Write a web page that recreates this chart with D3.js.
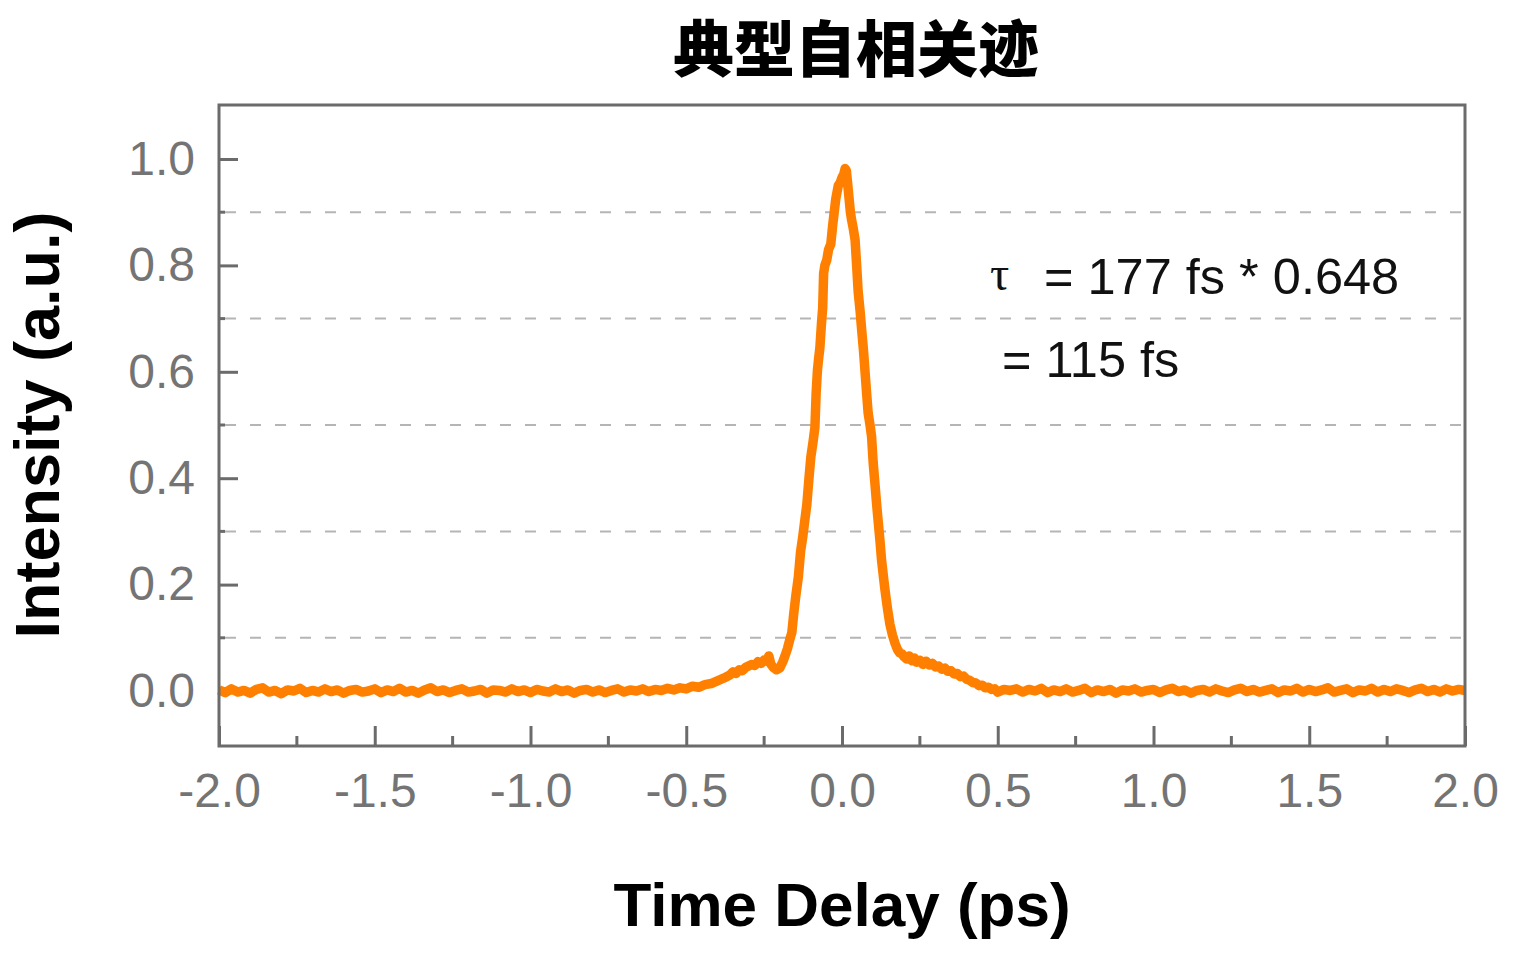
<!DOCTYPE html>
<html>
<head>
<meta charset="utf-8">
<script src="https://cdn.jsdelivr.net/npm/d3@7"></script>
<style>
  html, body { margin: 0; padding: 0; background: #ffffff; }
  svg { display: block; }
</style>
</head>
<body>
<svg id="chart" width="1522" height="957"></svg>
<script>
// ---------- Data ----------
const titleText = "典型自相关迹";
const xLabelText = "Time Delay (ps)";
const yLabelText = "Intensity (a.u.)";
const annotationLine1 = "= 177 fs * 0.648";
const annotationLine2 = "= 115 fs";
const annotationSymbol = "τ";

const xMajorTicks = [-2.0, -1.5, -1.0, -0.5, 0.0, 0.5, 1.0, 1.5, 2.0];
const xMinorTicks = [-1.75, -1.25, -0.75, -0.25, 0.25, 0.75, 1.25, 1.75];
const yMajorTicks = [0.0, 0.2, 0.4, 0.6, 0.8, 1.0];
const yGridLines = [0.1, 0.3, 0.5, 0.7, 0.9];

// [delay (ps), intensity (a.u.)]
const baselineLeft = [
  [-2.00,0.002],[-1.98,-0.003],[-1.96,0.004],[-1.94,-0.002],[-1.92,0.001],[-1.90,-0.004],
  [-1.88,0.003],[-1.86,0.006],[-1.84,-0.002],[-1.82,0.001],[-1.80,-0.005],[-1.78,0.002],
  [-1.76,0.000],[-1.74,0.005],[-1.72,-0.003],[-1.70,0.001],[-1.68,-0.002],[-1.66,0.004],
  [-1.64,-0.001],[-1.62,0.002],[-1.60,-0.004],[-1.58,0.001],[-1.56,0.003],[-1.54,-0.002],
  [-1.52,0.000],[-1.50,0.004],[-1.48,-0.003],[-1.46,0.002],[-1.44,-0.001],[-1.42,0.005],
  [-1.40,-0.002],[-1.38,0.001],[-1.36,-0.004],[-1.34,0.002],[-1.32,0.006],[-1.30,-0.001],
  [-1.28,0.002],[-1.26,-0.003],[-1.24,0.001],[-1.22,0.004],[-1.20,-0.002],[-1.18,0.000],
  [-1.16,0.003],[-1.14,-0.004],[-1.12,0.002],[-1.10,0.001],[-1.08,-0.002],[-1.06,0.004],
  [-1.04,-0.001],[-1.02,0.002],[-1.00,-0.003],[-0.98,0.003],[-0.96,0.000],[-0.94,-0.002],
  [-0.92,0.004],[-0.90,-0.001],[-0.88,0.002],[-0.86,-0.004],[-0.84,0.001],[-0.82,0.003],
  [-0.80,-0.002],[-0.78,0.002],[-0.76,-0.003],[-0.74,0.001],[-0.72,0.004],[-0.70,-0.002],
  [-0.68,0.002],[-0.66,0.000],[-0.64,0.004],[-0.62,-0.001],[-0.60,0.003],[-0.58,0.001],
  [-0.56,0.005],[-0.54,0.002],[-0.52,0.006]
];
const wingLeft = [
  [-0.50,0.004],[-0.48,0.009],[-0.46,0.007],[-0.44,0.012],[-0.42,0.014],[-0.40,0.019],
  [-0.38,0.024],[-0.36,0.030],[-0.35,0.036],[-0.34,0.033],[-0.33,0.040],[-0.32,0.038],
  [-0.31,0.044],[-0.30,0.047],[-0.29,0.050],[-0.28,0.048],[-0.27,0.055],[-0.26,0.052],
  [-0.25,0.058],[-0.24,0.056],[-0.235,0.066],[-0.228,0.050],[-0.22,0.044],[-0.21,0.040],
  [-0.20,0.043],[-0.19,0.055],[-0.183,0.066],[-0.175,0.080],[-0.167,0.098]
];
const peak = [
  [-0.161,0.110],[-0.155,0.145],[-0.148,0.180],[-0.140,0.215],[-0.133,0.262],[-0.126,0.290],
  [-0.120,0.318],[-0.113,0.350],[-0.106,0.400],[-0.100,0.440],[-0.093,0.468],[-0.087,0.495],
  [-0.083,0.560],[-0.079,0.602],[-0.075,0.625],[-0.071,0.645],[-0.066,0.690],[-0.062,0.720],
  [-0.059,0.785],[-0.055,0.800],[-0.049,0.810],[-0.043,0.830],[-0.036,0.840],[-0.030,0.875],
  [-0.026,0.895],[-0.020,0.925],[-0.012,0.950],[-0.006,0.955],[0.000,0.965],[0.006,0.972],
  [0.010,0.982],[0.014,0.978],[0.018,0.955],[0.022,0.930],[0.027,0.900],[0.031,0.885],
  [0.036,0.870],[0.042,0.848],[0.047,0.800],[0.052,0.750],[0.058,0.715],[0.063,0.680],
  [0.069,0.640],[0.074,0.600],[0.079,0.560],[0.084,0.522],[0.090,0.500],[0.095,0.478],
  [0.100,0.430],[0.106,0.388],[0.111,0.352],[0.116,0.320],[0.122,0.282],[0.127,0.246],
  [0.133,0.215],[0.138,0.190],[0.146,0.155],[0.154,0.125],[0.162,0.105]
];
const wingRight = [
  [0.170,0.090],[0.178,0.078],[0.185,0.072],[0.192,0.070],[0.200,0.064],[0.208,0.060],
  [0.216,0.066],[0.224,0.057],[0.232,0.062],[0.240,0.054],[0.25,0.058],[0.26,0.050],
  [0.27,0.056],[0.28,0.049],[0.29,0.052],[0.30,0.045],[0.31,0.047],[0.32,0.041],
  [0.33,0.043],[0.34,0.037],[0.35,0.038],[0.36,0.032],[0.37,0.033],[0.38,0.027],
  [0.39,0.028],[0.40,0.022],[0.41,0.020],[0.42,0.016],[0.43,0.015],[0.44,0.010],
  [0.45,0.011],[0.46,0.006],[0.47,0.007],[0.48,0.003],[0.49,0.004],[0.50,-0.002],
  [0.52,0.003],[0.54,0.001]
];
const baselineRight = [
  [0.56,0.004],[0.58,-0.002],[0.60,0.003],[0.62,0.000],[0.64,0.005],[0.66,-0.003],
  [0.68,0.002],[0.70,-0.001],[0.72,0.004],[0.74,-0.002],[0.76,0.001],[0.78,0.005],
  [0.80,-0.003],[0.82,0.002],[0.84,-0.001],[0.86,0.003],[0.88,-0.004],[0.90,0.002],
  [0.92,0.000],[0.94,0.004],[0.96,-0.002],[0.98,0.001],[1.00,0.003],[1.02,-0.003],
  [1.04,0.002],[1.06,0.005],[1.08,-0.001],[1.10,0.002],[1.12,-0.004],[1.14,0.001],
  [1.16,0.003],[1.18,-0.002],[1.20,0.004],[1.22,0.000],[1.24,-0.003],[1.26,0.002],
  [1.28,0.005],[1.30,-0.001],[1.32,0.003],[1.34,-0.002],[1.36,0.001],[1.38,0.004],
  [1.40,-0.003],[1.42,0.002],[1.44,0.000],[1.46,0.005],[1.48,-0.002],[1.50,0.003],
  [1.52,-0.001],[1.54,0.002],[1.56,0.006],[1.58,-0.002],[1.60,0.001],[1.62,0.004],
  [1.64,-0.003],[1.66,0.002],[1.68,0.000],[1.70,0.005],[1.72,-0.002],[1.74,0.003],
  [1.76,-0.001],[1.78,0.004],[1.80,0.001],[1.82,-0.003],[1.84,0.002],[1.86,0.005],
  [1.88,-0.001],[1.90,0.003],[1.92,-0.002],[1.94,0.004],[1.96,0.000],[1.98,0.003],
  [2.00,0.001]
];
const trace = [...baselineLeft, ...wingLeft, ...peak, ...wingRight, ...baselineRight];

// ---------- Layout ----------
const plot = { left: 219, right: 1465, top: 105, bottom: 746 };
const axisColor = "#6b6b6b";
const labelColor = "#747474";
const lineColor = "#ff8000";
const fmt = d => d.toFixed(1);

const svg = d3.select("#chart");

const x = d3.scaleLinear().domain([-2, 2]).range([plot.left, plot.right]);
const y = d3.scaleLinear().domain([-0.10338, 1.10150]).range([plot.bottom, plot.top]);

// Dashed gridlines
svg.append("g").selectAll("line").data(yGridLines).join("line")
  .attr("x1", plot.left + 6).attr("x2", plot.right)
  .attr("y1", d => y(d)).attr("y2", d => y(d))
  .attr("stroke", "#b5b5b5").attr("stroke-width", 2)
  .attr("stroke-dasharray", "11,14");

// Y axis (ticks inward)
const yAxis = svg.append("g")
  .attr("transform", `translate(${plot.left},0)`)
  .call(d3.axisLeft(y).tickValues(yMajorTicks).tickFormat(fmt)
        .tickSize(-19).tickPadding(24));
yAxis.select(".domain").remove();
yAxis.selectAll(".tick line").attr("stroke", axisColor).attr("stroke-width", 3);
yAxis.selectAll(".tick text")
  .attr("fill", labelColor)
  .style("font-family", "'Liberation Sans', Arial, sans-serif")
  .style("font-size", "48px");

// Y minor ticks
svg.append("g").selectAll("line").data(yGridLines).join("line")
  .attr("x1", plot.left).attr("x2", plot.left + 6)
  .attr("y1", d => y(d)).attr("y2", d => y(d))
  .attr("stroke", axisColor).attr("stroke-width", 3);

// X axis (ticks inward)
const xAxis = svg.append("g")
  .attr("transform", `translate(0,${plot.bottom})`)
  .call(d3.axisBottom(x).tickValues(xMajorTicks).tickFormat(fmt)
        .tickSize(-20).tickPadding(27));
xAxis.select(".domain").remove();
xAxis.selectAll(".tick line").attr("stroke", axisColor).attr("stroke-width", 3);
xAxis.selectAll(".tick text")
  .attr("fill", labelColor)
  .style("font-family", "'Liberation Sans', Arial, sans-serif")
  .style("font-size", "48px");

// X minor ticks
svg.append("g").selectAll("line").data(xMinorTicks).join("line")
  .attr("x1", d => x(d)).attr("x2", d => x(d))
  .attr("y1", plot.bottom).attr("y2", plot.bottom - 10)
  .attr("stroke", axisColor).attr("stroke-width", 3);

// Trace
const line = d3.line().x(d => x(d[0])).y(d => y(d[1]));
svg.append("path")
  .datum(trace)
  .attr("d", line)
  .attr("fill", "none")
  .attr("stroke", lineColor)
  .attr("stroke-width", 9.5)
  .attr("stroke-linejoin", "round");

// Frame
svg.append("rect")
  .attr("x", plot.left).attr("y", plot.top)
  .attr("width", plot.right - plot.left).attr("height", plot.bottom - plot.top)
  .attr("fill", "none").attr("stroke", axisColor).attr("stroke-width", 3);

// Title
svg.append("text")
  .attr("x", 856).attr("y", 72)
  .attr("text-anchor", "middle")
  .style("font-family", "'Noto Sans CJK SC', sans-serif")
  .style("font-weight", 900)
  .style("font-size", "61px")
  .attr("fill", "#000")
  .text(titleText);

// Axis titles
svg.append("text")
  .attr("x", 842).attr("y", 926)
  .attr("text-anchor", "middle")
  .style("font-family", "'Liberation Sans', Arial, sans-serif")
  .style("font-weight", "bold")
  .style("font-size", "62px")
  .attr("fill", "#000")
  .text(xLabelText);

svg.append("text")
  .attr("transform", "translate(59,425) rotate(-90)")
  .attr("text-anchor", "middle")
  .style("font-family", "'Liberation Sans', Arial, sans-serif")
  .style("font-weight", "bold")
  .style("font-size", "63px")
  .attr("fill", "#000")
  .text(yLabelText);

// Annotation
svg.append("text")
  .attr("x", 990).attr("y", 290)
  .style("font-family", "'Liberation Serif', 'DejaVu Serif', serif")
  .style("font-size", "48px")
  .attr("fill", "#111")
  .text(annotationSymbol);
svg.append("text")
  .attr("x", 1044).attr("y", 294)
  .style("font-family", "'Liberation Sans', Arial, sans-serif")
  .style("font-size", "50.5px")
  .attr("fill", "#111")
  .text(annotationLine1);
svg.append("text")
  .attr("x", 1002).attr("y", 377)
  .style("font-family", "'Liberation Sans', Arial, sans-serif")
  .style("font-size", "50.5px")
  .attr("fill", "#111")
  .text(annotationLine2);
</script>
</body>
</html>
